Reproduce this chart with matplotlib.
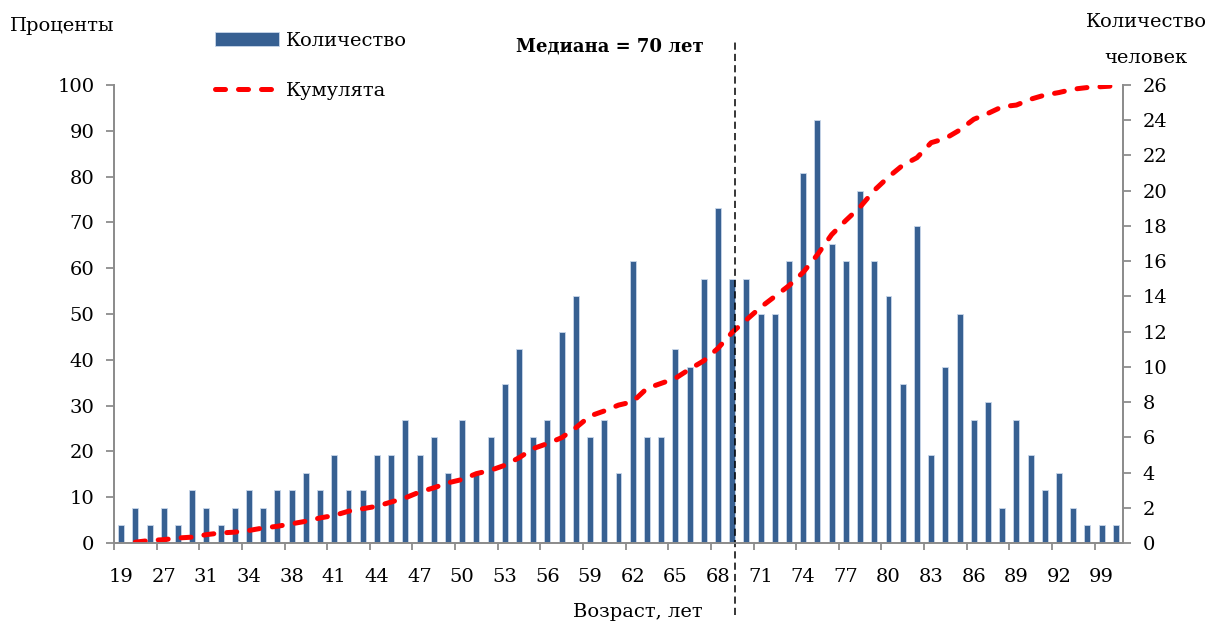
import numpy as np
import matplotlib
matplotlib.use('Agg')
import matplotlib.pyplot as plt
from matplotlib.transforms import blended_transform_factory

plt.rcParams['font.family'] = ['DejaVu Serif']
plt.rcParams['font.size'] = 14

# возраст (категории оси X); подписан каждый третий
ages = [19, 22, 25, 27, 29, 30, 31, 32, 33, 34, 35, 37, 38, 39, 40, 41, 42, 43,
        44, 45, 46, 47, 48, 49, 50, 51, 52, 53, 54, 55, 56, 57, 58, 59, 60, 61,
        62, 63, 64, 65, 66, 67, 68, 69, 70, 71, 72, 73, 74, 75, 76, 77, 78, 79,
        80, 81, 82, 83, 84, 85, 86, 87, 88, 89, 90, 91, 92, 94, 97, 99, 101]
# количество человек
counts = [1, 2, 1, 2, 1, 3, 2, 1, 2, 3, 2, 3, 3, 4, 3, 5, 3, 3, 5, 5, 7,
          5, 6, 4, 7, 4, 6, 9, 11, 6, 7, 12, 14, 6, 7, 4, 16, 6, 6, 11, 10, 15, 19,
          15, 15, 13, 13, 16, 21, 24, 17, 16, 20, 16, 14, 9, 18, 5, 10, 13,
          7, 8, 2, 7, 5, 3, 4, 2, 1, 1, 1]
median_age = 70

W, H = 1208, 625
fig = plt.figure(figsize=(W / 100, H / 100), dpi=100)
ax = fig.add_axes([114 / W, 82 / H, 1009 / W, 458 / H])
ax2 = ax.twinx()

x = np.arange(len(ages))

# столбцы - количество (правая ось)
bars = ax2.bar(x, counts, width=0.42, color='#376092', edgecolor='#c9d7ea',
               linewidth=0.6, label='Количество')

# кумулята в процентах (левая ось)
cum = np.cumsum(counts) / sum(counts) * 100
line, = ax.plot(x[1:], cum[:-1], color='red', lw=3.6, dashes=(2.0, 2.6),
                dash_capstyle='round', label='Кумулята')

ax.set_zorder(ax2.get_zorder() + 1)
ax.patch.set_visible(False)

ax.set_xlim(-0.5, len(ages) - 0.5)
ax.set_ylim(0, 100)
ax.set_yticks(range(0, 101, 10))
ax2.set_ylim(0, 26)
ax2.set_yticks(range(0, 27, 2))

ax.set_xticks(x[::3])
ax.set_xticklabels([str(a) for a in ages[::3]])
ax.set_xticks(np.arange(-0.5, len(ages) - 1, 3), minor=True)
ax.tick_params(axis='x', which='major', length=0, pad=18)
ax.tick_params(axis='x', which='minor', length=5, width=1.3, color='#8c8c8c')
ax.tick_params(axis='y', length=6, width=1.3, color='#8c8c8c', pad=8)
ax2.tick_params(axis='y', length=6, width=1.3, color='#8c8c8c', pad=8)

for a in (ax, ax2):
    a.spines['top'].set_visible(False)
    for s in ('left', 'right', 'bottom'):
        a.spines[s].set_color('#8c8c8c')
        a.spines[s].set_linewidth(1.3)

# медиана
idx = ages.index(median_age)
tr = blended_transform_factory(ax.transData, ax.transAxes)
ax.plot([idx - 0.8, idx - 0.8], [-0.157, 1.098], transform=tr, color='black',
        lw=1.1, dashes=(4.7, 2.7), clip_on=False)
fig.text(610 / W, 1 - 47 / H, 'Медиана = 70 лет', weight='bold',
         ha='center', va='center', fontsize=13)

# подписи
fig.text(10 / W, 1 - 26 / H, 'Проценты', ha='left', va='center')
fig.text(1146 / W, 1 - 22 / H, 'Количество', ha='center', va='center')
fig.text(1146 / W, 1 - 58 / H, 'человек', ha='center', va='center')
fig.text(638 / W, 1 - 612 / H, 'Возраст, лет', ha='center', va='center')

fig.legend([bars, line], ['Количество', 'Кумулята'], loc='upper left',
           bbox_to_anchor=(215 / W, 1 - 32 / H), frameon=False, borderpad=0,
           borderaxespad=0, handlelength=3.3, handletextpad=0.35,
           labelspacing=1.65)

fig.savefig('out.png', dpi=100)
